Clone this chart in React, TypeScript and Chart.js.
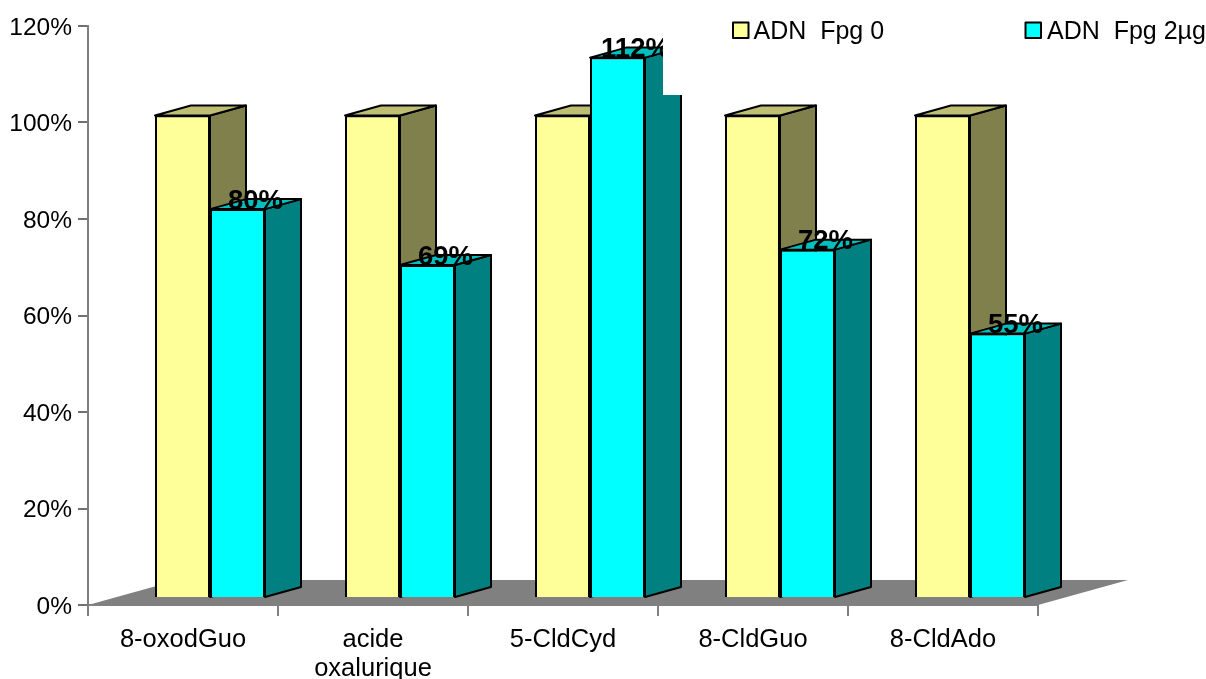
import React, { useEffect, useRef } from "react";
import { Chart, registerables } from "chart.js";

Chart.register(...registerables);

const categories = ["8-oxodGuo", ["acide", "oxalurique"], "5-CldCyd", "8-CldGuo", "8-CldAdo"];
const fpg0Values = [100, 100, 100, 100, 100];
const fpg2Values = [80.6, 69, 112, 72.2, 54.8];
const fpg2Labels = ["80%", "69%", "112%", "72%", "55%"];
const seriesNames = ["ADN  Fpg 0", "ADN  Fpg 2µg"];
const yTicks = { min: 0, max: 120, step: 20 };

const FONT = "'Liberation Sans', Arial, sans-serif";

const FRONT = { dx: 27, dy: -7 };
const DEPTH = { dx: 36, dy: -10 };
const FLOOR = { dx: 90, dy: -25 };

const SHADES = [
  { front: "#FFFF99", top: "#BFBF73", side: "#80804D" },
  { front: "#00FFFF", top: "#00BFBF", side: "#008080" },
];

function poly(ctx: CanvasRenderingContext2D, pts: number[][], fill: string, stroke = true) {
  ctx.beginPath();
  pts.forEach(([x, y], i) => (i ? ctx.lineTo(x, y) : ctx.moveTo(x, y)));
  ctx.closePath();
  ctx.fillStyle = fill;
  ctx.fill();
  if (stroke) {
    ctx.strokeStyle = "#000";
    ctx.lineWidth = 2;
    ctx.lineJoin = "round";
    ctx.stroke();
  }
}

const threeD = {
  id: "threeD",
  beforeDraw(chart: any) {
    if (chart.$labelsShifted) return;
    chart.$labelsShifted = true;
    chart.scales.y.getLabelItems().forEach((item: any) => {
      item.options.translation[1] += 2;
    });
  },
  beforeDatasetsDraw(chart: any) {
    const { ctx, chartArea: a } = chart;
    poly(
      ctx,
      [
        [a.left, a.bottom],
        [a.right, a.bottom],
        [a.right + FLOOR.dx, a.bottom + FLOOR.dy],
        [a.left + FLOOR.dx, a.bottom + FLOOR.dy],
      ],
      "#808080",
      false
    );
    [0, 1].forEach((d) => {
      chart.getDatasetMeta(d).data.forEach((bar: any) => {
        const { x, y, base, width } = bar.getProps(["x", "y", "base", "width"], true);
        const l = x - width / 2 + FRONT.dx;
        const r = x + width / 2 + FRONT.dx;
        const t = y + FRONT.dy;
        const b = base + FRONT.dy;
        poly(ctx, [[r, t], [r + DEPTH.dx, t + DEPTH.dy], [r + DEPTH.dx, b + DEPTH.dy], [r, b]], SHADES[d].side);
        poly(ctx, [[l, t], [r, t], [r + DEPTH.dx, t + DEPTH.dy], [l + DEPTH.dx, t + DEPTH.dy]], SHADES[d].top);
      });
    });
    ctx.save();
    ctx.translate(FRONT.dx, FRONT.dy);
  },
  afterDatasetsDraw(chart: any) {
    const { ctx } = chart;
    ctx.restore();

    ctx.fillStyle = "#000";
    ctx.font = `bold 27.5px ${FONT}`;
    ctx.textAlign = "center";
    ctx.textBaseline = "middle";
    chart.getDatasetMeta(1).data.forEach((bar: any, i: number) => {
      const { x, y } = bar.getProps(["x", "y"], true);
      ctx.fillText(fpg2Labels[i], x + FRONT.dx + DEPTH.dx / 2, y + FRONT.dy + DEPTH.dy + 2);
    });

    // legend panel: an opaque box that hides whatever passes behind it
    ctx.fillStyle = "#fff";
    ctx.fillRect(663, 0, 543, 95);
    const items = [
      { box: 733, text: 753.5 },
      { box: 1025.5, text: 1047 },
    ];
    items.forEach((it, i) => {
      ctx.fillStyle = SHADES[i].front;
      ctx.strokeStyle = "#000";
      ctx.lineWidth = 2;
      ctx.fillRect(it.box, 22.5, 15.5, 15.5);
      ctx.strokeRect(it.box, 22.5, 15.5, 15.5);
      ctx.fillStyle = "#000";
      ctx.font = `25px ${FONT}`;
      ctx.textAlign = "left";
      ctx.textBaseline = "alphabetic";
      ctx.fillText(seriesNames[i], it.text, 39);
    });
  },
};

export default function App() {
  const ref = useRef<HTMLCanvasElement>(null);
  useEffect(() => {
    const chart = new Chart(ref.current!, {
      type: "bar",
      data: {
        labels: categories as any,
        datasets: [
          { label: seriesNames[0], data: fpg0Values, backgroundColor: SHADES[0].front, borderColor: "#000", borderWidth: 2 },
          { label: seriesNames[1], data: fpg2Values, backgroundColor: SHADES[1].front, borderColor: "#000", borderWidth: 2 },
        ],
      },
      plugins: [threeD],
      options: {
        responsive: false,
        animation: false,
        layout: { padding: { top: 26, right: 168, left: 0, bottom: 0 } },
        plugins: { legend: { display: false }, tooltip: { enabled: false } },
        datasets: { bar: { categoryPercentage: 110 / 190, barPercentage: 1 } },
        scales: {
          x: {
            z: 1,
            grid: { drawOnChartArea: false, color: "#808080", lineWidth: 2, tickLength: 11 },
            border: { color: "#808080", width: 2 },
            ticks: { color: "#000", font: { family: FONT, size: 25.5, lineHeight: 1.14 }, maxRotation: 0, autoSkip: false, padding: 9 },
            afterFit: (s: any) => { s.height = 74; },
          },
          y: {
            z: 1,
            min: yTicks.min,
            max: yTicks.max,
            grid: { drawOnChartArea: false, color: "#707070", lineWidth: 2, tickLength: 10 },
            border: { color: "#808080", width: 2 },
            ticks: { stepSize: yTicks.step, color: "#000", font: { family: FONT, size: 24.5 }, padding: 6, callback: (v: any) => `${v}%` },
            afterFit: (s: any) => { s.width = 88; },
          },
        },
      } as any,
    });
    return () => chart.destroy();
  }, []);
  return (
    <canvas
      ref={ref}
      width={1206}
      height={679}
      style={{ position: "absolute", left: 0, top: 0, width: 1206, height: 679 }}
    />
  );
}
